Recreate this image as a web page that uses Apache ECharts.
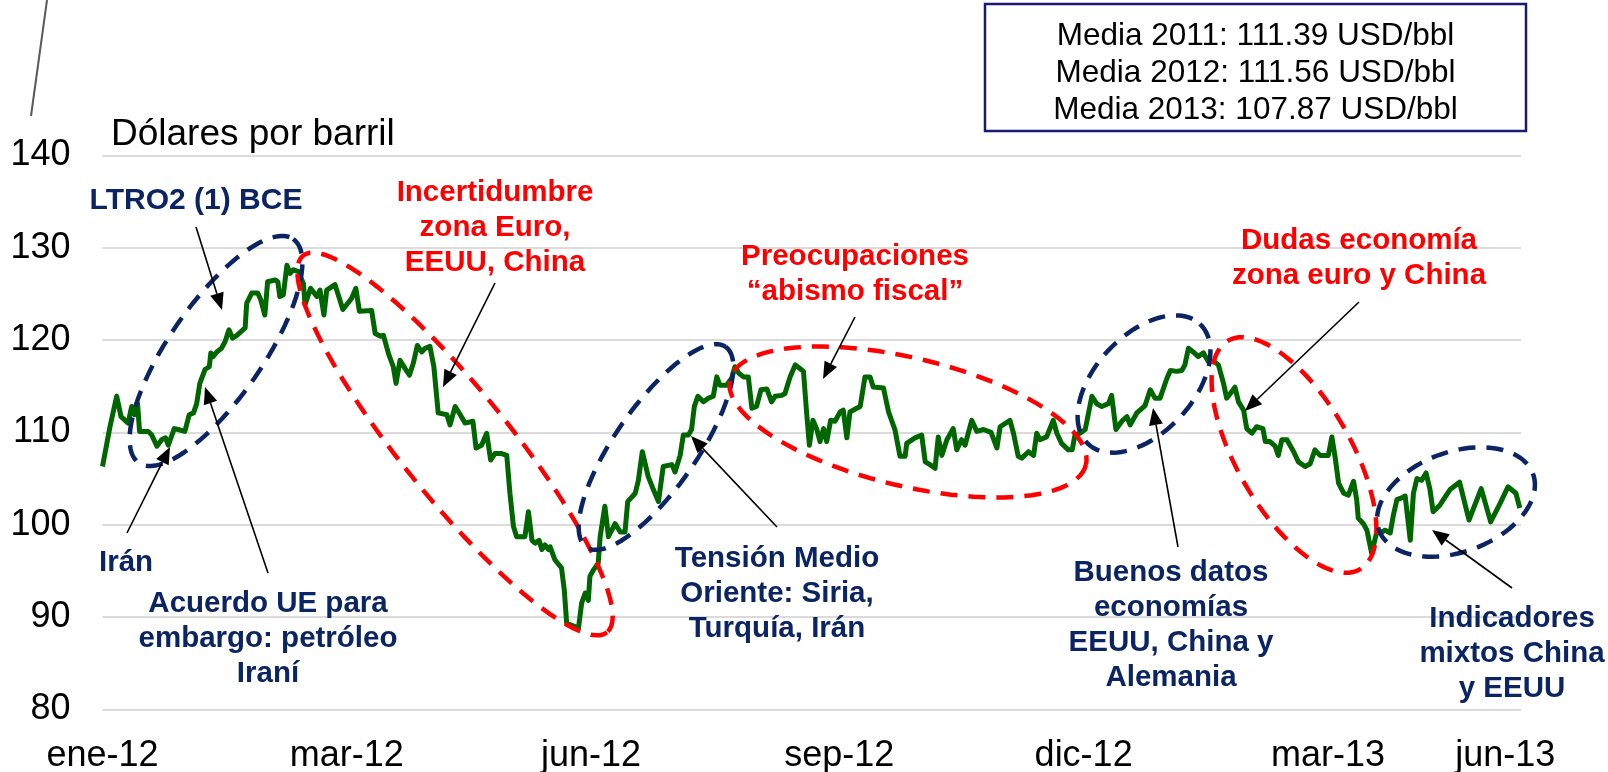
<!DOCTYPE html>
<html><head><meta charset="utf-8">
<script src="https://cdn.jsdelivr.net/npm/echarts@6/dist/echarts.min.js"></script>
<style>html,body{margin:0;padding:0;background:#fff}#c{width:1608px;height:772px}</style>
</head><body><div id="c"></div>
<script>
// ---- DATA (Brent, USD/bbl, trading-day index) ----
const dayIndex = [0,1.9,3.6,4.7,6.5,7.4,8.1,8.9,9.4,11.6,12.5,13.8,15.0,16.0,16.7,18.2,19.2,20.9,22.0,23.1,23.9,24.7,26.0,27.1,27.5,28.1,29.0,30.2,31.1,32.1,33.0,34.1,36.2,36.6,37.9,39.4,40.2,41.2,41.9,43.8,44.5,45.0,45.9,46.8,47.6,48.4,49.7,51.0,51.4,52.8,54.4,55.2,56.2,56.9,59.0,61.0,63.2,64.3,65.2,68.3,69.2,70.6,71.3,72.6,73.8,74.5,75.5,76.8,77.9,78.9,79.9,81.0,81.9,83.1,84.1,85.2,87.4,88.2,89.5,90.8,92.0,94.0,94.8,96.2,97.5,98.5,99.6,101.3,102.6,103.4,104.3,105.1,107.2,108.1,109.0,109.8,110.8,111.5,112.3,113.2,113.6,114.8,116.5,117.2,117.8,119.1,120.8,121.6,122.5,123.3,123.7,124.6,125.8,126.3,127.5,128.4,130.1,131.4,132.6,133.3,135.2,136.0,137.0,138.5,139.8,141.1,142.3,144.5,145.3,146.6,147.4,148.7,149.5,150.2,151.1,152.5,153.8,155.0,155.9,156.7,158.4,159.7,160.5,161.5,162.7,163.9,164.8,166.0,167.1,168.6,169.8,170.7,172.4,173.2,174.5,175.8,177.0,177.9,178.7,179.4,180.3,181.3,182.1,183.0,183.8,184.8,185.9,187.2,188.0,188.9,189.7,191.4,192.3,193.5,194.8,195.6,198.2,199.5,201.1,202.4,203.7,204.1,206.2,207.9,208.8,210.0,211.3,212.1,213.0,214.3,215.9,216.8,218.0,218.9,220.6,221.9,223.6,225.5,227.0,227.8,230.3,231.2,232.4,233.3,235.0,236.3,237.1,237.9,239.6,241.3,242.2,243.4,245.1,246.1,246.8,248.1,249.4,251.1,252.3,253.6,255.3,256.1,257.2,258.7,260.0,260.8,262.5,264.6,265.9,267.1,268.4,270.1,271.0,272.6,273.9,274.7,275.6,276.8,278.1,279.4,280.6,282.3,283.2,284.5,285.3,286.6,287.4,288.3,289.6,290.4,291.7,292.9,294.5,295.1,296.3,297.6,298.4,299.3,300.6,302.3,303.5,305.2,306.5,307.7,309.0,311.1,312.0,312.8,313.7,315.0,316.2,317.5,318.3,318.7,320.0,320.9,322.1,323.4,324.7,325.5,326.8,327.6,328.5,329.7,330.6,331.9,332.7,333.6,334.8,335.9,336.9,337.7,339.4,340.3,342.0,344.4,346.8,349.9,352.3,354.7,356.7,358.7,359.7];
const brent = [106.3,110.6,113.9,111.7,111.0,112.8,111.9,113.1,110.1,110.1,109.7,108.5,109.2,109.4,108.6,110.4,110.3,110.1,111.9,112.1,113.1,115.3,116.8,117.1,118.6,118.2,118.7,119.1,119.8,121.1,120.2,120.5,121.3,124.0,125.1,125.1,124.3,122.7,126.3,126.5,126.3,124.7,124.9,128.1,127.2,127.6,127.4,126.1,123.8,125.6,124.7,125.4,122.7,125.4,126.0,123.3,124.5,125.6,123.1,123.2,120.7,120.4,120.5,118.5,117.1,115.3,117.8,116.9,116.2,117.5,119.4,118.7,119.1,119.3,117.1,112.1,111.9,110.8,112.8,111.9,111.0,111.2,108.3,108.6,109.9,107.0,107.7,107.7,107.5,103.4,99.8,98.7,98.7,101.4,98.3,98.0,98.3,97.3,97.8,97.3,97.6,96.2,95.3,92.9,89.3,89.1,88.8,91.5,92.6,91.8,94.4,95.1,95.8,98.7,102.0,98.7,100.1,99.2,99.2,102.5,103.4,104.8,107.9,105.2,103.8,102.5,106.3,106.5,105.7,107.5,109.7,109.7,110.3,112.8,113.9,113.3,113.7,113.9,116.0,115.1,115.1,115.9,117.1,116.4,116.0,116.0,112.6,112.8,114.6,114.7,113.3,113.9,114.0,114.2,116.0,117.3,116.9,116.6,112.1,108.6,111.3,110.3,109.0,110.4,109.0,111.3,111.2,112.2,112.4,109.4,112.2,112.6,112.8,116.0,116.0,114.9,114.8,112.2,110.3,107.4,107.4,108.8,109.4,109.7,106.8,106.5,106.1,109.5,107.5,109.2,110.4,108.1,109.2,108.6,111.3,110.1,110.3,110.0,108.3,110.6,111.3,109.9,107.4,107.2,107.9,107.5,109.9,109.2,109.5,111.3,109.9,108.8,108.1,108.1,109.7,109.9,110.3,113.9,113.1,112.8,113.1,114.0,110.3,111.2,111.7,110.8,112.1,112.9,114.6,113.7,113.7,115.8,116.7,116.6,116.7,117.3,119.1,118.7,118.2,118.6,117.7,117.6,117.3,115.3,113.7,114.4,114.9,113.3,112.4,110.4,109.9,110.6,110.4,109.0,109.0,108.5,107.5,109.2,109.2,107.9,106.8,106.3,106.6,108.1,107.5,107.5,109.5,107.4,104.5,103.4,103.2,104.7,102.7,100.7,100.1,99.4,96.9,99.2,99.2,99.4,99.1,101.0,102.7,102.9,103.1,98.3,103.4,105.0,104.8,105.6,103.8,101.4,102.1,102.7,103.8,104.6,100.5,103.9,100.3,102.3,104.1,103.4,101.8];
const xTickValues = [0, 62, 124, 187, 249, 311, 356];
const xTickLabels = ['ene-12','mar-12','jun-12','sep-12','dic-12','mar-13','jun-13'];
const yMin = 80, yMax = 140, yStep = 10;
const averages = ['Media 2011: 111.39 USD/bbl','Media 2012: 111.56 USD/bbl','Media 2013: 107.87 USD/bbl'];

// ---- styles ----
const FONT = '"Liberation Sans", Arial, sans-serif';
const NAVY = '#0B2463', RED = '#FF0000', GREEN = '#006600';

const chart = echarts.init(document.getElementById('c'), null, {renderer:'canvas'});

function ellipse(cx, cy, a, b, deg, color) {
  const t = deg * Math.PI / 180, pts = [];
  for (let i = 0; i <= 96; i++) {
    const u = i / 96 * Math.PI * 2;
    const ex = a * Math.cos(u), ey = b * Math.sin(u);
    pts.push([cx + ex * Math.cos(t) - ey * Math.sin(t), cy + ex * Math.sin(t) + ey * Math.cos(t)]);
  }
  return {type:'polyline', z:50, silent:true, shape:{points:pts},
    style:{stroke:color, lineWidth:4.5, fill:null, lineDash:[17,11]}};
}
function arrow(x1, y1, x2, y2) {
  const ang = Math.atan2(y2 - y1, x2 - x1), L = 17, W = 7;
  const bx = x2 - L * Math.cos(ang), by = y2 - L * Math.sin(ang);
  const px = -Math.sin(ang) * W, py = Math.cos(ang) * W;
  return [
    {type:'line', z:60, silent:true, shape:{x1, y1, x2:bx, y2:by}, style:{stroke:'#000', lineWidth:1.6}},
    {type:'polygon', z:60, silent:true, shape:{points:[[x2,y2],[bx+px,by+py],[bx-px,by-py]]}, style:{fill:'#000'}}
  ];
}
function label(x, y, text, color, size, bold, lh) {
  return {type:'text', z:70, silent:true, x, y, style:{text, fill:color,
    font:(bold?'bold ':'') + size + 'px ' + FONT,
    textAlign:'center', align:'center', textVerticalAlign:'middle', verticalAlign:'middle',
    lineHeight: lh || size}};
}

const graphics = [
  {type:'line', z:60, silent:true, shape:{x1:47, y1:0, x2:31, y2:116}, style:{stroke:'#595959', lineWidth:2}},
  {type:'rect', z:40, silent:true, shape:{x:985, y:4, width:541, height:127}, style:{fill:'#fff', stroke:'#1A1A6E', lineWidth:2.5}},
  label(1255.5, 73, averages.join('\n'), '#000', 31.5, false, 37),
  {type:'text', z:70, silent:true, x:111, y:135, style:{text:'Dólares por barril', fill:'#000',
    font:'37px ' + FONT, textAlign:'left', align:'left', textVerticalAlign:'middle', verticalAlign:'middle'}},
  {type:'rect', z:80, silent:true, shape:{x:0, y:719, width:95, height:20}, style:{fill:'#fff'}},
  ellipse(216, 351, 136, 47, -55.4, NAVY),
  ellipse(455, 444, 242, 54, 51.1, RED),
  ellipse(656, 447, 122, 41, -55.2, NAVY),
  ellipse(908, 422, 183, 64, 13.5, RED),
  ellipse(1144, 384, 82, 49, -47, NAVY),
  ellipse(1294, 455, 132, 57, 60, RED),
  ellipse(1456, 502, 82, 50, -20, NAVY),
  ...arrow(196, 227, 222, 310),
  ...arrow(495, 283, 443, 387),
  ...arrow(127, 533, 170, 447),
  ...arrow(268, 573, 205, 387),
  ...arrow(777, 527, 691, 436),
  ...arrow(855, 317, 823, 379),
  ...arrow(1178, 547, 1153, 408),
  ...arrow(1359, 302, 1245, 411),
  ...arrow(1512, 588, 1432, 530),
  label(196, 201, 'LTRO2 (1) BCE', NAVY, 30, true),
  label(495, 228, 'Incertidumbre\nzona Euro,\nEEUU, China', RED, 29.5, true, 35),
  label(855, 274, 'Preocupaciones\n“abismo fiscal”', RED, 29.5, true, 35),
  label(1359, 258, 'Dudas economía\nzona euro y China', RED, 29.5, true, 35),
  label(126, 563, 'Irán', NAVY, 29.5, true),
  label(268, 639, 'Acuerdo UE para\nembargo: petróleo\nIraní', NAVY, 29.5, true, 35),
  label(777, 594, 'Tensión Medio\nOriente: Siria,\nTurquía, Irán', NAVY, 29.5, true, 35),
  label(1171, 625, 'Buenos datos\neconomías\nEEUU, China y\nAlemania', NAVY, 29.5, true, 35),
  label(1512, 654, 'Indicadores\nmixtos China\ny EEUU', NAVY, 29.5, true, 35)
];

const option = {
  backgroundColor:'#fff',
  animation:false,
  grid:{left:102.5, right:87, top:155.3, bottom:62.7, containLabel:false, outerBoundsMode:'none'},
  xAxis:{type:'value', min:0, max:360,
    axisLine:{show:false}, axisTick:{show:false}, splitLine:{show:false},
    axisLabel:{customValues:xTickValues, margin:29, color:'#000', fontSize:36, fontFamily:FONT,
      formatter:(v)=>{const i = xTickValues.indexOf(v); return i >= 0 ? xTickLabels[i] : '';}}},
  yAxis:{type:'value', min:yMin, max:yMax, interval:yStep,
    axisLine:{show:false}, axisTick:{show:false},
    splitLine:{lineStyle:{color:'#CFCFCF', width:1.5}},
    axisLabel:{margin:32, color:'#000', fontSize:36, fontFamily:FONT}},
  series:[{type:'line', data:dayIndex.map((d,i)=>[d, brent[i]]), showSymbol:false, symbol:'none',
    lineStyle:{color:GREEN, width:5, join:'round'}, z:5}],
  graphic:graphics
};
chart.setOption(option);
</script></body></html>
